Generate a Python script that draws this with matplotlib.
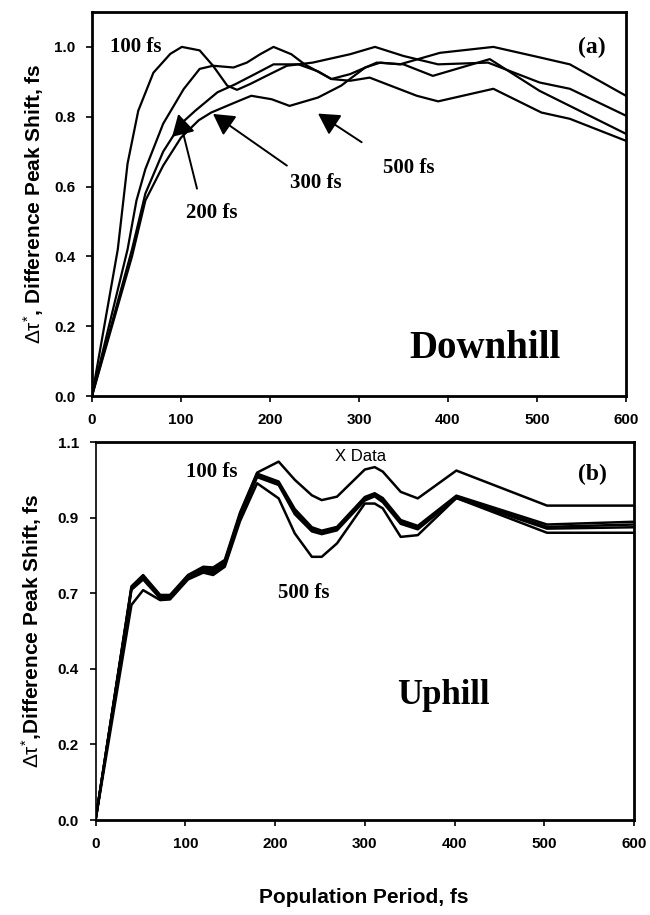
import numpy as np
import matplotlib
matplotlib.use('Agg')
import matplotlib.pyplot as plt
from matplotlib.ticker import FormatStrFormatter

plt.rcParams['font.family'] = ['Liberation Sans', 'DejaVu Sans']
plt.rcParams['mathtext.fontset'] = 'custom'
plt.rcParams['mathtext.rm'] = 'Liberation Sans'
plt.rcParams['mathtext.it'] = 'Liberation Sans'

# (a) Downhill
x_100_a = [0, 29, 40, 52, 69, 88, 101, 121, 136, 152, 163, 178, 196, 219, 248, 290, 318, 350, 389, 445, 503, 537, 600]
y_100_a = [0, 0.42, 0.666, 0.817, 0.926, 0.98, 1.0, 0.99, 0.946, 0.889, 0.877, 0.894, 0.917, 0.946, 0.955, 0.979, 1.0, 0.974, 0.95, 0.955, 0.898, 0.88, 0.803]
x_200_a = [0, 40, 50, 60, 80, 103, 121, 136, 159, 174, 189, 204, 224, 239, 269, 290, 312, 365, 389, 451, 505, 537, 600]
y_200_a = [0, 0.42, 0.56, 0.65, 0.78, 0.879, 0.937, 0.946, 0.941, 0.955, 0.979, 1.0, 0.979, 0.95, 0.908, 0.903, 0.912, 0.86, 0.844, 0.88, 0.812, 0.794, 0.731]
x_300_a = [0, 45, 60, 80, 100, 116, 141, 161, 183, 204, 232, 254, 269, 290, 320, 350, 383, 447, 503, 600]
y_300_a = [0, 0.42, 0.58, 0.70, 0.78, 0.817, 0.87, 0.893, 0.922, 0.95, 0.95, 0.93, 0.908, 0.922, 0.955, 0.95, 0.917, 0.965, 0.874, 0.751]
x_500_a = [0, 45, 60, 80, 100, 120, 134, 160, 179, 202, 222, 254, 280, 307, 324, 346, 391, 451, 503, 537, 600]
y_500_a = [0, 0.40, 0.56, 0.66, 0.74, 0.79, 0.812, 0.84, 0.86, 0.85, 0.831, 0.855, 0.889, 0.941, 0.955, 0.95, 0.983, 1.0, 0.97, 0.95, 0.86]

# (b) Uphill
x_b = [0, 40, 53, 72, 83, 103, 120, 131, 144, 161, 180, 204, 222, 241, 252, 269, 300, 311, 320, 340, 359, 402, 503, 600]
y_xdata = [0, .68, .713, .655, .655, .713, .737, .735, .757, .895, 1.011, 1.043, .99, .945, .931, .941, 1.02, 1.027, 1.014, .955, .936, 1.017, .915, .915]
y_100_b = [0, .676, .709, .652, .652, .71, .735, .73, .752, .89, 1.008, .985, .905, .852, .842, .853, .94, .951, .937, .873, .856, .944, .86, .868]
y_200_b = [0, .673, .705, .648, .648, .706, .73, .724, .746, .885, 1.004, .98, .898, .846, .836, .848, .934, .947, .93, .868, .85, .94, .853, .86]
y_300_b = [0, .67, .70, .645, .645, .703, .726, .718, .742, .88, .998, .975, .89, .84, .832, .843, .93, .942, .925, .862, .846, .937, .848, .852]
y_500_b = [0, .626, .669, .64, .642, .70, .72, .713, .737, .87, .98, .936, .834, .766, .766, .805, .921, .921, .907, .824, .829, .937, .836, .836]

fig = plt.figure(figsize=(6.5, 9.15), dpi=100)
ax1 = fig.add_axes([0.1415, 0.5672, 0.8215, 0.4197])
ax2 = fig.add_axes([0.147, 0.1038, 0.8285, 0.4131])

tick_font = dict(family='Liberation Sans', weight='bold', size=11)
serif = dict(family='Liberation Serif', weight='bold')

for ax in (ax1, ax2):
    ax.set_xlim(0, 600)
    ax.set_ylim(0, 1.1)
    ax.set_xticks(np.arange(0, 601, 100))
    ax.tick_params(direction='out', length=4, width=1.2, pad=8, top=False, right=False)
    for lab in ax.get_xticklabels() + ax.get_yticklabels():
        lab.set_fontproperties(tick_font)
    for s in ax.spines.values():
        s.set_linewidth(2)
    ax.yaxis.set_major_formatter(FormatStrFormatter('%.1f'))

# top panel
ax1.set_yticks(np.arange(0, 1.01, 0.2))
for lab in ax1.get_yticklabels():
    lab.set_fontproperties(tick_font)
for xs, ys in [(x_100_a, y_100_a), (x_200_a, y_200_a), (x_300_a, y_300_a), (x_500_a, y_500_a)]:
    ax1.plot(xs, ys, color='black', lw=1.6)

ax1.text(49, 1.0, '100 fs', ha='center', va='center', fontsize=15, **serif)
ax1.text(135, 0.525, '200 fs', ha='center', va='center', fontsize=15, **serif)
ax1.text(251, 0.611, '300 fs', ha='center', va='center', fontsize=15, **serif)
ax1.text(356, 0.654, '500 fs', ha='center', va='center', fontsize=15, **serif)
ax1.text(562, 0.997, '(a)', ha='center', va='center', fontsize=17, **serif)
ax1.text(442, 0.109, 'Downhill', ha='center', va='baseline', fontsize=28, **serif)

arrow = dict(arrowstyle='-|>,head_length=0.8,head_width=0.45', lw=1.4, color='black',
             mutation_scale=16, shrinkA=0, shrinkB=0)
ax1.annotate('', xy=(97, 0.808), xytext=(118, 0.594), arrowprops=arrow)
ax1.annotate('', xy=(136, 0.808), xytext=(219, 0.66), arrowprops=arrow)
ax1.annotate('', xy=(254, 0.809), xytext=(303, 0.727), arrowprops=arrow)

ax1.set_ylabel(r'$\mathrm{\Delta\tau}^{*}$, Difference Peak Shift, fs',
               fontsize=15, fontweight='bold', labelpad=6)

# bottom panel
ax2.set_yticks(np.linspace(0, 1.1, 6))
for lab in ax2.get_yticklabels():
    lab.set_fontproperties(tick_font)
ax2.spines['left'].set_linewidth(1.2)
for ys in [y_xdata, y_100_b, y_200_b, y_300_b, y_500_b]:
    ax2.plot(x_b, ys, color='black', lw=1.8)

ax2.text(130, 1.014, '100 fs', ha='center', va='center', fontsize=15, **serif)
ax2.text(232, 0.661, '500 fs', ha='center', va='center', fontsize=15, **serif)
ax2.text(295, 1.059, 'X Data', ha='center', va='center', fontsize=12)
ax2.text(554, 1.007, '(b)', ha='center', va='center', fontsize=17, **serif)
ax2.text(388, 0.338, 'Uphill', ha='center', va='baseline', fontsize=25, **serif)

ax2.set_ylabel(r'$\mathrm{\Delta\tau}^{*}$,Difference Peak Shift, fs',
               fontsize=15, fontweight='bold', labelpad=10)

fig.text(0.56, 0.019, 'Population Period, fs', ha='center', va='center',
         fontsize=15, fontweight='bold')

fig.savefig('out.png', dpi=100)
